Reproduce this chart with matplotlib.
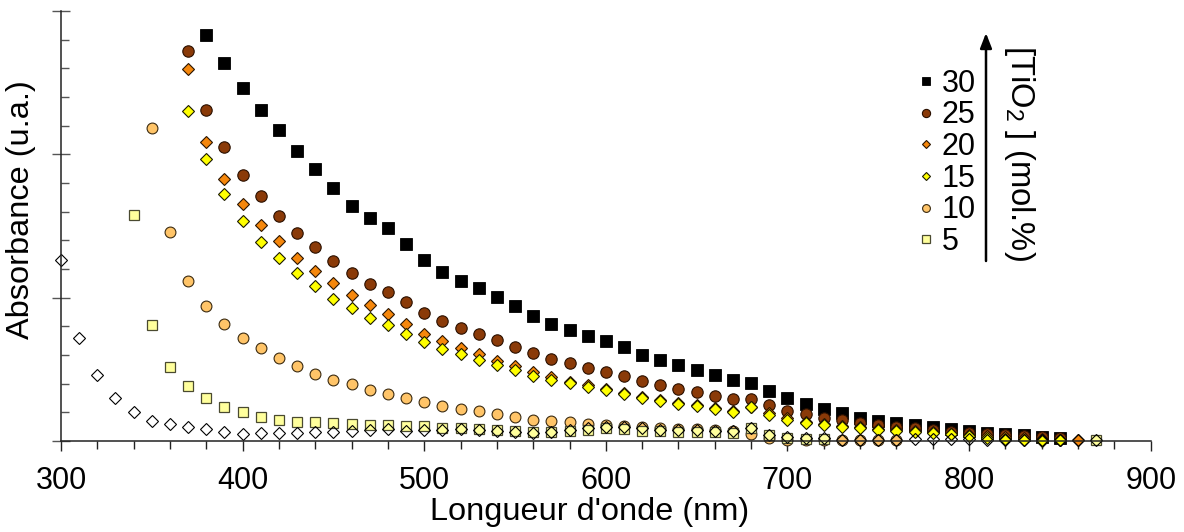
import matplotlib
matplotlib.use("Agg")
import matplotlib.pyplot as plt
from matplotlib.ticker import MultipleLocator, NullFormatter

plt.rcParams['font.family'] = ['Liberation Sans', 'DejaVu Sans']
plt.rcParams['mathtext.fontset'] = 'custom'
plt.rcParams['mathtext.rm'] = 'Liberation Sans'
plt.rcParams['mathtext.it'] = 'Liberation Sans'

# ---------------- data ----------------
wl_30 = list(range(380, 851, 10))
abs_30 = [2.832, 2.640, 2.465, 2.307, 2.167, 2.020, 1.897, 1.767, 1.643, 1.553,
          1.484, 1.372, 1.263, 1.177, 1.114, 1.067, 1.005, 0.942, 0.872, 0.816,
          0.772, 0.730, 0.695, 0.653, 0.602, 0.563, 0.528, 0.493, 0.458, 0.423,
          0.407, 0.349, 0.302, 0.256, 0.221, 0.193, 0.163, 0.142, 0.128, 0.112,
          0.095, 0.084, 0.072, 0.058, 0.049, 0.040, 0.026, 0.019]

wl_25 = list(range(370, 851, 10))
abs_25 = [2.721, 2.311, 2.051, 1.855, 1.706, 1.568, 1.453, 1.353, 1.259, 1.170,
          1.098, 1.040, 0.970, 0.895, 0.837, 0.791, 0.749, 0.702, 0.658, 0.612,
          0.572, 0.544, 0.512, 0.481, 0.451, 0.419, 0.388, 0.363, 0.342, 0.316,
          0.293, 0.293, 0.249, 0.209, 0.186, 0.163, 0.147, 0.128, 0.112, 0.100,
          0.088, 0.077, 0.065, 0.058, 0.047, 0.040, 0.033, 0.030, 0.023]

wl_20 = list(range(370, 861, 10))
abs_20 = [2.598, 2.089, 1.831, 1.654, 1.509, 1.393, 1.280, 1.188, 1.100, 1.016,
          0.947, 0.884, 0.819, 0.749, 0.698, 0.647, 0.605, 0.560, 0.521, 0.484,
          0.447, 0.415, 0.390, 0.365, 0.338, 0.310, 0.288, 0.268, 0.250, 0.233,
          0.212, 0.240, 0.192, 0.158, 0.134, 0.117, 0.105, 0.095, 0.083, 0.076,
          0.068, 0.060, 0.052, 0.042, 0.032, 0.025, 0.018, 0.013, 0.010, 0.007]

wl_15 = list(range(370, 851, 10))
abs_15 = [2.302, 1.964, 1.725, 1.538, 1.391, 1.278, 1.171, 1.079, 0.994, 0.926,
          0.856, 0.809, 0.744, 0.691, 0.642, 0.605, 0.565, 0.528, 0.493, 0.456,
          0.426, 0.402, 0.379, 0.356, 0.330, 0.302, 0.279, 0.260, 0.242, 0.226,
          0.205, 0.235, 0.184, 0.149, 0.126, 0.109, 0.098, 0.088, 0.077, 0.070,
          0.063, 0.056, 0.047, 0.033, 0.021, 0.012, 0.007, 0.002, 0.007]

wl_10 = list(range(350, 761, 10))
abs_10 = [2.186, 1.455, 1.114, 0.939, 0.819, 0.722, 0.646, 0.580, 0.523, 0.468,
          0.428, 0.395, 0.356, 0.330, 0.300, 0.270, 0.247, 0.226, 0.209, 0.188,
          0.167, 0.147, 0.140, 0.133, 0.122, 0.115, 0.107, 0.097, 0.090, 0.086,
          0.081, 0.075, 0.072, 0.050, 0.020, 0.010, 0.008, 0.006, 0.006, 0.006,
          0.008, 0.006]

wl_5 = list(range(340, 721, 10)) + [870]
abs_5 = [1.580, 0.811, 0.513, 0.386, 0.298, 0.237, 0.199, 0.170, 0.147, 0.132,
         0.130, 0.123, 0.119, 0.109, 0.114, 0.102, 0.102, 0.088, 0.091, 0.086,
         0.079, 0.070, 0.060, 0.060, 0.072, 0.080, 0.088, 0.082, 0.072, 0.068,
         0.066, 0.064, 0.063, 0.056, 0.090, 0.040, 0.020, 0.015, 0.015, 0.004]

wl_0 = list(range(300, 871, 10))
abs_0 = [1.263, 0.722, 0.459, 0.300, 0.203, 0.142, 0.116, 0.097, 0.083, 0.066,
         0.052, 0.054, 0.057, 0.059, 0.064, 0.066, 0.071, 0.076, 0.083, 0.070,
         0.075, 0.080, 0.085, 0.080, 0.070, 0.060, 0.056, 0.065, 0.080, 0.088,
         0.097, 0.097, 0.088, 0.080, 0.080, 0.074, 0.070, 0.070, 0.090, 0.040,
         0.025, 0.020, 0.020, 0.010, 0.010, 0.010, 0.010, 0.012, 0.012, 0.012,
         0.012, 0.005, 0.004, 0.004, 0.004, 0.004, 0.004, 0.004]

series_labels = ['30', '25', '20', '15', '10', '5']

# ---------------- figure ----------------
fig = plt.figure(figsize=(11.84, 5.32), dpi=100)
ax = fig.add_axes([61 / 1184, 91 / 532, (1150.7 - 61) / 1184, 430 / 532])

common = dict(linestyle='none', clip_on=False)
ax.plot(wl_30, abs_30, marker='s', ms=8.4, mfc='black', mec='black', mew=0.6,
        label=series_labels[0], **common)
ax.plot(wl_25, abs_25, marker='o', ms=8.2, mfc='#8a3a08', mec='#2a1000', mew=0.8,
        label=series_labels[1], **common)
ax.plot(wl_20, abs_20, marker='D', ms=5.8, mfc='#f5870c', mec='#2a1400', mew=0.8,
        label=series_labels[2], **common)
ax.plot(wl_15, abs_15, marker='D', ms=5.8, mfc='#ffff00', mec='#1a1a00', mew=0.8,
        label=series_labels[3], **common)
ax.plot(wl_10, abs_10, marker='o', ms=7.8, mfc='#ffc468', mec='#3a2a10', mew=0.8,
        label=series_labels[4], **common)
ax.plot(wl_5, abs_5, marker='s', ms=7.6, mfc='#ffff9c', mec='#4a4a30', mew=0.9,
        label=series_labels[5], **common)
ax.plot(wl_0, abs_0, marker='D', ms=5.8, mfc='none', mec='black', mew=0.8,
        label='_nolegend_', **common)

ax.set_xlim(300, 900)
ax.set_ylim(0, 3)

for side in ('top', 'right'):
    ax.spines[side].set_visible(False)
for side in ('left', 'bottom'):
    ax.spines[side].set_linewidth(1.1)
    ax.spines[side].set_color('#222222')

ax.xaxis.set_major_locator(MultipleLocator(100))
ax.xaxis.set_minor_locator(MultipleLocator(20))
ax.yaxis.set_major_locator(MultipleLocator(1))
ax.yaxis.set_minor_locator(MultipleLocator(0.2))
ax.yaxis.set_major_formatter(NullFormatter())

ax.tick_params(axis='x', which='major', direction='out', length=7.2, width=1.0,
               labelsize=22, pad=10.5, color='#222222')
ax.tick_params(axis='x', which='minor', direction='out', length=5.8, width=1.0,
               color='#222222')
ax.tick_params(axis='y', which='major', direction='inout', length=12.7, width=1.0,
               color='#555555')
ax.tick_params(axis='y', which='minor', direction='in', length=5.5, width=1.0,
               color='#555555')

ax.set_xlabel("Longueur d'onde (nm)", fontsize=23.4)
ax.xaxis.set_label_coords(0.4855, -0.131)
ax.set_ylabel("Absorbance (u.a.)", fontsize=23.4)
ax.yaxis.set_label_coords(-0.0225, 0.537)

leg = ax.legend(loc='upper left', bbox_to_anchor=((920 - 61) / 1089.7, 0.866),
                frameon=False, fontsize=22, markerscale=0.72, handlelength=0.4,
                handletextpad=0.3, labelspacing=0.055, borderpad=0,
                borderaxespad=0)

ax.annotate('', xy=((986 - 61) / 1089.7, (441 - 33) / 430),
            xytext=((986 - 61) / 1089.7, (441 - 261) / 430),
            xycoords='axes fraction', textcoords='axes fraction',
            arrowprops=dict(arrowstyle='-|>,head_length=0.9,head_width=0.35',
                            color='black', lw=1.8, shrinkA=0, shrinkB=0))
ax.text((1020 - 61) / 1089.7, (441 - 153) / 430, '[TiO$_2$ ] (mol.%)',
        transform=ax.transAxes, rotation=-90, ha='center', va='center',
        fontsize=23.6)

fig.savefig('out.png', dpi=100)
